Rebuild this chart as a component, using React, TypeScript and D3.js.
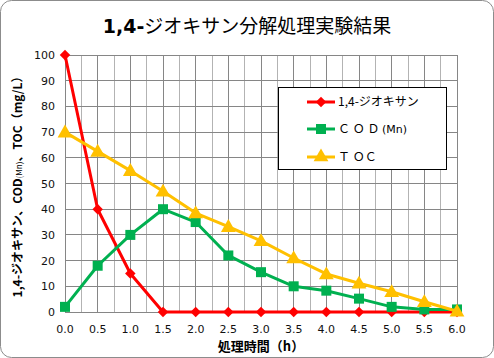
import React from "react";
import * as d3 from "d3";

// 処理時間 (h)
const hours = [0, 0.5, 1, 1.5, 2, 2.5, 3, 3.5, 4, 4.5, 5, 5.5, 6];
const dioxane = [100, 40, 15, 0, 0, 0, 0, 0, 0, 0, 0, 0, 0];
const cod = [2, 18, 30, 40, 35, 22, 15.5, 10, 8.3, 5.2, 2, 1, 1];
const toc = [70, 62.5, 55, 47, 38.5, 33.2, 27.7, 21, 14.8, 11.2, 7.9, 4, 0.3];
const xTicks = [0, 0.5, 1, 1.5, 2, 2.5, 3, 3.5, 4, 4.5, 5, 5.5, 6];
const yTicks = [0, 10, 20, 30, 40, 50, 60, 70, 80, 90, 100];

const W = 494;
const H = 358;
const plot = { left: 65, right: 457, top: 55, bottom: 312 };

const jp = "'Noto Sans CJK JP', 'Noto Sans', sans-serif";
const num = "'DejaVu Sans', Verdana, sans-serif";

type Marker = "diamond" | "square" | "triangle";

const series: { name: string; values: number[]; color: string; marker: Marker }[] = [
  { name: "dioxane", values: dioxane, color: "#ff0000", marker: "diamond" },
  { name: "cod", values: cod, color: "#00b050", marker: "square" },
  { name: "toc", values: toc, color: "#ffc000", marker: "triangle" },
];

const symbolFor = (m: Marker) => {
  if (m === "diamond") return d3.symbol(d3.symbolDiamond2, 70)();
  if (m === "square") return d3.symbol(d3.symbolSquare, 100)();
  return d3.symbol(d3.symbolTriangle, 95)();
};

export default function App() {
  const x = d3.scaleLinear().domain([0, 6]).range([plot.left, plot.right]);
  const y = d3.scaleLinear().domain([0, 100]).range([plot.bottom, plot.top]);
  const line = d3
    .line<number>()
    .x((_, i) => x(hours[i]))
    .y((d) => y(d));

  const minorX = d3.range(0, 6.001, 0.25);

  return (
    <svg
      width={W}
      height={H}
      style={{ position: "absolute", left: 0, top: 0 }}
    >
      <rect x={0.5} y={0.5} width={W - 1} height={H - 1} rx={11} fill="#fff" stroke="#8c8c8c" />

      <text x={247} y={33} textAnchor="middle" fontFamily={jp} fontSize={19} fill="#000">
        <tspan fontWeight="bold" fontFamily={num}>1,4-</tspan>
        <tspan fontWeight={400}>ジオキサン分解処理実験結果</tspan>
      </text>

      {/* grid */}
      {minorX.map((t, i) => (
        <line
          key={"vx" + i}
          x1={x(t)} x2={x(t)} y1={plot.top} y2={plot.bottom}
          stroke={i % 2 === 0 ? "#868686" : "#b3b3b3"}
          strokeWidth={1}
          shapeRendering="crispEdges"
        />
      ))}
      {yTicks.map((t) => (
        <line
          key={"hy" + t}
          x1={plot.left} x2={plot.right} y1={y(t)} y2={y(t)}
          stroke="#868686"
          shapeRendering="crispEdges"
        />
      ))}
      <line x1={plot.left} x2={plot.left} y1={plot.top} y2={plot.bottom} stroke="#868686" shapeRendering="crispEdges" />

      {/* tick labels */}
      {yTicks.map((t) => (
        <text key={"yl" + t} x={55} y={y(t) + 4} textAnchor="end" fontFamily={num} fontSize={11} fill="#111">
          {t}
        </text>
      ))}
      {xTicks.map((t) => (
        <text key={"xl" + t} x={x(t)} y={333} textAnchor="middle" fontFamily={num} fontSize={11} fill="#111">
          {t.toFixed(1)}
        </text>
      ))}

      {/* series */}
      {series.map((s) => (
        <g key={s.name}>
          <path d={line(s.values) || ""} fill="none" stroke={s.color} strokeWidth={3} strokeLinejoin="round" />
          {s.values.map((v, i) => (
            <path
              key={i}
              d={symbolFor(s.marker) || ""}
              transform={`translate(${x(hours[i])},${y(v) + (s.marker === "triangle" ? 1 : 0)})`}
              fill={s.color}
            />
          ))}
        </g>
      ))}

      {/* legend */}
      <rect x={278.5} y={87.5} width={168} height={82} fill="#fff" stroke="#000" />
      {[
        { s: series[0], label: <tspan>1,4-ジオキサン</tspan>, yy: 102 },
        {
          s: series[1],
          label: (
            <>
              <tspan>Ｃ Ｏ Ｄ </tspan>
              <tspan fontSize={11} fontFamily={num}>(Mn)</tspan>
            </>
          ),
          yy: 129,
        },
        { s: series[2], label: <tspan>Ｔ ＯＣ</tspan>, yy: 157 },
      ].map((e) => (
        <g key={e.s.name}>
          <line x1={307} x2={335} y1={e.yy} y2={e.yy} stroke={e.s.color} strokeWidth={3} />
          <path d={symbolFor(e.s.marker) || ""} transform={`translate(321,${e.yy})`} fill={e.s.color} />
          <text x={338} y={e.yy + 4} fontFamily={jp} fontSize={12} fill="#000">
            {e.label}
          </text>
        </g>
      ))}

      {/* axis titles */}
      <text
        transform="translate(22,184) rotate(-90)"
        textAnchor="middle"
        fontFamily={jp}
        fontSize={12}
        fontWeight="bold"
        fill="#000"
      >
        <tspan>1,4-ジオキサン、COD</tspan>
        <tspan fontSize={8} fontWeight="normal">(Mn)</tspan>
        <tspan>、TOC（mg/L）</tspan>
      </text>
      <text x={261} y={351} textAnchor="middle" fontFamily={jp} fontSize={13} fontWeight="bold" fill="#000">
        処理時間（h）
      </text>
    </svg>
  );
}
